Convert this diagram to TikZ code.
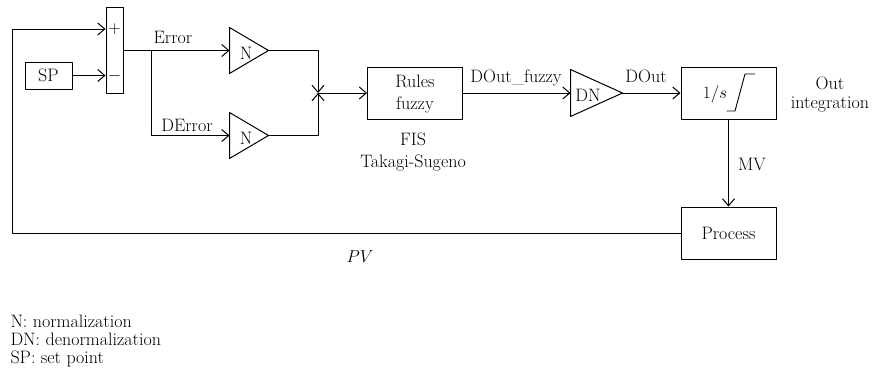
\documentclass[tikz,border=0pt]{standalone}
\usetikzlibrary{arrows.meta,calc}

\begin{document}
\begin{tikzpicture}[x=1pt,y=-1pt,line cap=round,line join=round,line width=1pt,
  >={Straight Barb[length=7pt,width=12pt]},
  font=\fontsize{18}{22}\selectfont,
  blk/.style={draw,minimum width=95,minimum height=52,inner sep=0,align=center},
  amp/.style={minimum width=38,minimum height=45,inner sep=0},
  txt/.style={inner sep=0,anchor=base}]

\useasboundingbox (0,0) rectangle (878,389);

% -----------------------
% Comparator and set point
% -----------------------
\node[draw,minimum width=17,minimum height=86,inner sep=0] (sum) at (114.5,50) {};
\node[inner sep=0] (plus)  at (114.5,29) {$+$};
\node[inner sep=0] (minus) at (114.5,76) {$-$};

\node[draw,minimum width=47,minimum height=27,inner sep=0] (sp) at (48.5,75.5) {SP};
\draw[->] (sp.east) -- (sp.east -| sum.west);

% -----------------------
% Normalization gains
% -----------------------
\node[amp] (n1) at (249,50.5) {};
\draw (n1.north west) -- (n1.east) -- (n1.south west) -- cycle;
\node[inner sep=0] (n1txt) at (246,53) {N};

\node[amp] (n2) at (249,135.5) {};
\draw (n2.north west) -- (n2.east) -- (n2.south west) -- cycle;
\node[inner sep=0] (n2txt) at (246,138) {N};

\coordinate (br) at (151,50.5);
\draw (sum.east |- br) -- (br);
\draw[->] (br) -- (n1.west);
\draw[->] (br) |- (n2.west);
\node[txt] (err)  at (173,43)  {Error};
\node[txt] (derr) at (187,131) {DError};

% -----------------------
% Fuzzy block
% -----------------------
\coordinate (jn) at (318,93);
\node[blk] (rules) at (415,93) {};
\node[txt,align=center] (rulestxt) at (415,109) {Rules\\fuzzy};
\draw[->] (n1.east) -| (jn);
\draw[->] (n2.east) -| (jn);
\draw[->] (jn) -- (rules.west);
\node[txt,align=center] (fis) at (413,167) {FIS\\Takagi-Sugeno};

% Denormalization
\node[minimum width=51,minimum height=46,inner sep=0] (dn) at (596.5,93) {};
\draw (dn.north west) -- (dn.east) -- (dn.south west) -- cycle;
\node[inner sep=0] (dntxt) at (588,95) {DN};
\draw[->] (rules.east) -- (dn.west);
\node[txt] (doutf) at (516,82) {DOut\_fuzzy};

% -----------------------
% Integrator and process
% -----------------------
\node[blk] (integ) at (728.5,93) {};
\node[txt] (inv) at (715,98) {$1/s$};
\draw[line width=0.9pt] (727,111) -- (735,111) -- (745,74) -- (755,74);
\draw[->] (dn.east) -- (integ.west);
\node[txt] (dout) at (646,82) {DOut};
\node[txt,align=center] (outint) at (830,108) {Out\\[-3pt]integration};

\node[blk] (proc) at (728.5,233) {Process};
\draw[->] (integ.south) -- (proc.north);
\node[txt] (mv) at (752,170) {MV};

% Feedback
\coordinate (fb) at (12,29);
\draw[->] (proc.west) -| (fb) -- (fb -| sum.west);
\node[txt] (pv) at (360,262) {$PV$};

% -----------------------
% Legend
% -----------------------
\node[inner sep=0,anchor=base west] (leg1) at (10,327) {N: normalization};
\node[inner sep=0,anchor=base west] (leg2) at (10,345) {DN: denormalization};
\node[inner sep=0,anchor=base west] (leg3) at (10,363) {SP: set point};

\end{tikzpicture}
\end{document}
